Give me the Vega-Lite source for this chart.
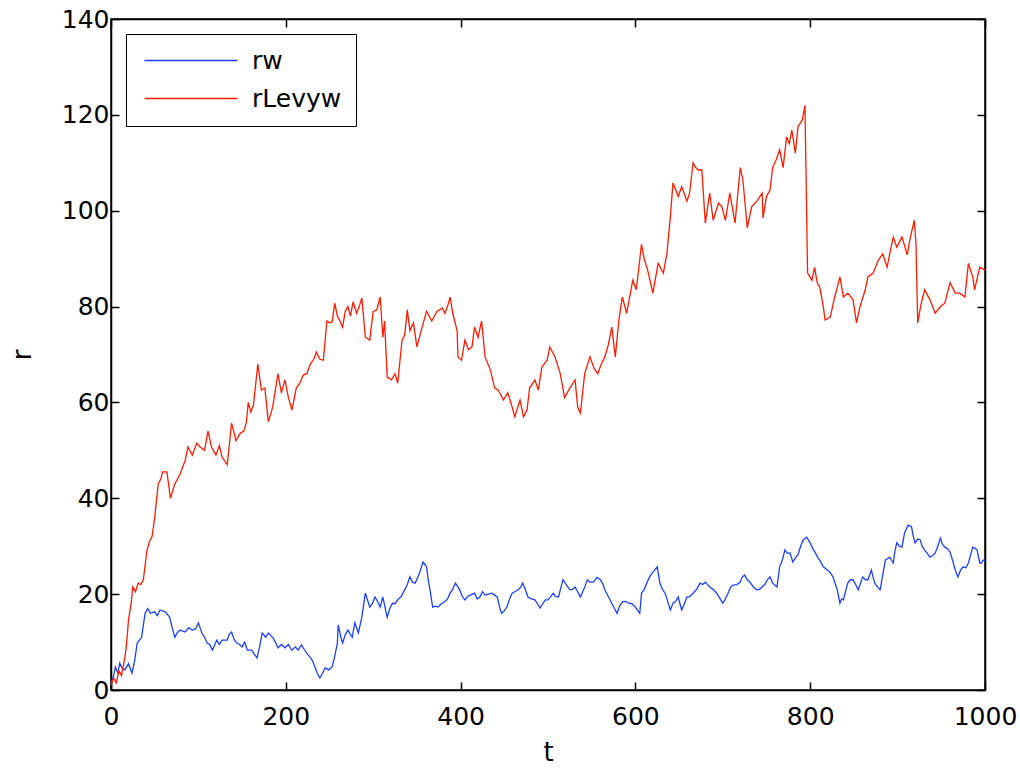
{
  "$schema": "https://vega.github.io/schema/vega-lite/v6.json",
  "width": 874,
  "height": 671,
  "autosize": "none",
  "padding": {"left": 111, "top": 19, "right": 35, "bottom": 78},
  "background": "white",
  "config": {
    "font": "DejaVu Sans",
    "view": {"stroke": "black", "strokeWidth": 1.5}
  },
  "data": {"values": [
    {"s":"rw","t":0,"r":1.5},{"s":"rw","t":3,"r":3},{"s":"rw","t":5,"r":4.8},{"s":"rw","t":8,"r":3.5},{"s":"rw","t":10,"r":5.6},{"s":"rw","t":13,"r":4.5},{"s":"rw","t":16,"r":4.2},{"s":"rw","t":20,"r":5.5},{"s":"rw","t":24,"r":3.5},{"s":"rw","t":27,"r":6},{"s":"rw","t":30,"r":9.8},{"s":"rw","t":35,"r":11},{"s":"rw","t":39,"r":16},{"s":"rw","t":42,"r":17},{"s":"rw","t":45,"r":16},{"s":"rw","t":50,"r":16.3},{"s":"rw","t":53,"r":15.5},{"s":"rw","t":56,"r":16.7},{"s":"rw","t":62,"r":16.3},{"s":"rw","t":67,"r":15.2},{"s":"rw","t":70,"r":13},{"s":"rw","t":73,"r":11},{"s":"rw","t":76,"r":12},{"s":"rw","t":79,"r":12.5},{"s":"rw","t":85,"r":12.1},{"s":"rw","t":89,"r":13},{"s":"rw","t":93,"r":12.5},{"s":"rw","t":97,"r":12.8},{"s":"rw","t":100,"r":14},{"s":"rw","t":104,"r":11.9},{"s":"rw","t":107,"r":11},{"s":"rw","t":110,"r":9.8},{"s":"rw","t":113,"r":9.5},{"s":"rw","t":116,"r":8.3},{"s":"rw","t":121,"r":10.4},{"s":"rw","t":124,"r":9.5},{"s":"rw","t":127,"r":10.4},{"s":"rw","t":133,"r":10.4},{"s":"rw","t":135,"r":11.5},{"s":"rw","t":138,"r":12.1},{"s":"rw","t":141,"r":10.5},{"s":"rw","t":144,"r":9.8},{"s":"rw","t":147,"r":9.5},{"s":"rw","t":150,"r":9},{"s":"rw","t":153,"r":10},{"s":"rw","t":156,"r":8.3},{"s":"rw","t":161,"r":8.3},{"s":"rw","t":164,"r":7.5},{"s":"rw","t":167,"r":6.7},{"s":"rw","t":170,"r":9},{"s":"rw","t":173,"r":11.9},{"s":"rw","t":177,"r":11},{"s":"rw","t":180,"r":11.9},{"s":"rw","t":185,"r":11},{"s":"rw","t":188,"r":10},{"s":"rw","t":191,"r":8.8},{"s":"rw","t":195,"r":9.5},{"s":"rw","t":199,"r":8.8},{"s":"rw","t":203,"r":9.5},{"s":"rw","t":207,"r":8.3},{"s":"rw","t":211,"r":9},{"s":"rw","t":214,"r":8.3},{"s":"rw","t":218,"r":9.4},{"s":"rw","t":221,"r":8.5},{"s":"rw","t":224,"r":7.7},{"s":"rw","t":227,"r":7},{"s":"rw","t":230,"r":6.3},{"s":"rw","t":233,"r":5},{"s":"rw","t":236,"r":3.5},{"s":"rw","t":239,"r":2.5},{"s":"rw","t":242,"r":3.5},{"s":"rw","t":245,"r":4.6},{"s":"rw","t":249,"r":4.2},{"s":"rw","t":253,"r":4.8},{"s":"rw","t":256,"r":7},{"s":"rw","t":259,"r":9.8},{"s":"rw","t":260,"r":13.6},{"s":"rw","t":263,"r":11},{"s":"rw","t":265,"r":9.8},{"s":"rw","t":268,"r":11.5},{"s":"rw","t":271,"r":12.5},{"s":"rw","t":276,"r":11},{"s":"rw","t":279,"r":14},{"s":"rw","t":283,"r":11.9},{"s":"rw","t":287,"r":15.2},{"s":"rw","t":291,"r":20.2},{"s":"rw","t":294,"r":18.5},{"s":"rw","t":296,"r":17.3},{"s":"rw","t":299,"r":18},{"s":"rw","t":302,"r":19.4},{"s":"rw","t":305,"r":18.5},{"s":"rw","t":308,"r":17.3},{"s":"rw","t":311,"r":19.4},{"s":"rw","t":316,"r":15.2},{"s":"rw","t":319,"r":17},{"s":"rw","t":322,"r":18.1},{"s":"rw","t":325,"r":18},{"s":"rw","t":328,"r":18.8},{"s":"rw","t":332,"r":19.5},{"s":"rw","t":336,"r":20.9},{"s":"rw","t":339,"r":22},{"s":"rw","t":342,"r":23.6},{"s":"rw","t":345,"r":22.5},{"s":"rw","t":348,"r":22.3},{"s":"rw","t":351,"r":23.5},{"s":"rw","t":354,"r":25},{"s":"rw","t":357,"r":26.7},{"s":"rw","t":361,"r":25.7},{"s":"rw","t":363,"r":23},{"s":"rw","t":365,"r":20.9},{"s":"rw","t":368,"r":17.3},{"s":"rw","t":371,"r":17.5},{"s":"rw","t":374,"r":17.3},{"s":"rw","t":378,"r":18},{"s":"rw","t":382,"r":18.4},{"s":"rw","t":385,"r":19},{"s":"rw","t":388,"r":20.2},{"s":"rw","t":391,"r":21},{"s":"rw","t":394,"r":22.3},{"s":"rw","t":397,"r":21.5},{"s":"rw","t":399,"r":20.9},{"s":"rw","t":402,"r":19.5},{"s":"rw","t":405,"r":18.8},{"s":"rw","t":408,"r":19.5},{"s":"rw","t":411,"r":19.8},{"s":"rw","t":416,"r":20.2},{"s":"rw","t":419,"r":19},{"s":"rw","t":422,"r":19.4},{"s":"rw","t":425,"r":20.5},{"s":"rw","t":428,"r":19.8},{"s":"rw","t":432,"r":20},{"s":"rw","t":436,"r":20.2},{"s":"rw","t":439,"r":19.8},{"s":"rw","t":442,"r":19.4},{"s":"rw","t":445,"r":17},{"s":"rw","t":447,"r":16},{"s":"rw","t":450,"r":16.5},{"s":"rw","t":453,"r":17.3},{"s":"rw","t":456,"r":19},{"s":"rw","t":459,"r":20.2},{"s":"rw","t":462,"r":20.5},{"s":"rw","t":466,"r":20.9},{"s":"rw","t":469,"r":21.5},{"s":"rw","t":471,"r":22.3},{"s":"rw","t":474,"r":21},{"s":"rw","t":477,"r":19.4},{"s":"rw","t":481,"r":19},{"s":"rw","t":485,"r":18.8},{"s":"rw","t":488,"r":18},{"s":"rw","t":491,"r":17.1},{"s":"rw","t":494,"r":18},{"s":"rw","t":497,"r":18.8},{"s":"rw","t":500,"r":18.8},{"s":"rw","t":503,"r":19.5},{"s":"rw","t":506,"r":20.2},{"s":"rw","t":509,"r":19.5},{"s":"rw","t":512,"r":19.4},{"s":"rw","t":515,"r":21.5},{"s":"rw","t":517,"r":23},{"s":"rw","t":521,"r":22},{"s":"rw","t":525,"r":20.9},{"s":"rw","t":528,"r":21},{"s":"rw","t":531,"r":21.5},{"s":"rw","t":534,"r":20.5},{"s":"rw","t":537,"r":19.4},{"s":"rw","t":541,"r":21},{"s":"rw","t":545,"r":23},{"s":"rw","t":548,"r":22.5},{"s":"rw","t":552,"r":22.5},{"s":"rw","t":556,"r":23.5},{"s":"rw","t":560,"r":23},{"s":"rw","t":563,"r":22},{"s":"rw","t":565,"r":20.9},{"s":"rw","t":569,"r":19.5},{"s":"rw","t":573,"r":18.1},{"s":"rw","t":576,"r":17},{"s":"rw","t":579,"r":16},{"s":"rw","t":582,"r":17.5},{"s":"rw","t":585,"r":18.4},{"s":"rw","t":589,"r":18.5},{"s":"rw","t":592,"r":18.1},{"s":"rw","t":596,"r":18},{"s":"rw","t":600,"r":17.3},{"s":"rw","t":603,"r":16.5},{"s":"rw","t":605,"r":16},{"s":"rw","t":607,"r":20.2},{"s":"rw","t":610,"r":21},{"s":"rw","t":613,"r":22.3},{"s":"rw","t":616,"r":23.5},{"s":"rw","t":619,"r":24.4},{"s":"rw","t":622,"r":25},{"s":"rw","t":625,"r":25.7},{"s":"rw","t":628,"r":22.3},{"s":"rw","t":631,"r":21},{"s":"rw","t":634,"r":20.2},{"s":"rw","t":637,"r":18.5},{"s":"rw","t":640,"r":16.7},{"s":"rw","t":643,"r":18.1},{"s":"rw","t":646,"r":18.5},{"s":"rw","t":649,"r":19.4},{"s":"rw","t":651,"r":18},{"s":"rw","t":653,"r":16.7},{"s":"rw","t":656,"r":18},{"s":"rw","t":659,"r":19.4},{"s":"rw","t":662,"r":19.5},{"s":"rw","t":666,"r":20.2},{"s":"rw","t":670,"r":21},{"s":"rw","t":674,"r":22.3},{"s":"rw","t":677,"r":22},{"s":"rw","t":680,"r":22.5},{"s":"rw","t":685,"r":21.5},{"s":"rw","t":689,"r":21},{"s":"rw","t":693,"r":20.2},{"s":"rw","t":697,"r":19},{"s":"rw","t":700,"r":18.1},{"s":"rw","t":703,"r":19},{"s":"rw","t":706,"r":20.2},{"s":"rw","t":709,"r":21.5},{"s":"rw","t":712,"r":21.9},{"s":"rw","t":716,"r":22},{"s":"rw","t":720,"r":22.5},{"s":"rw","t":722,"r":23.5},{"s":"rw","t":725,"r":24},{"s":"rw","t":728,"r":23},{"s":"rw","t":731,"r":22.5},{"s":"rw","t":735,"r":21.5},{"s":"rw","t":739,"r":20.9},{"s":"rw","t":742,"r":21},{"s":"rw","t":745,"r":21.5},{"s":"rw","t":748,"r":22},{"s":"rw","t":751,"r":23},{"s":"rw","t":754,"r":23.6},{"s":"rw","t":757,"r":22.3},{"s":"rw","t":762,"r":21.5},{"s":"rw","t":765,"r":25.7},{"s":"rw","t":768,"r":27},{"s":"rw","t":771,"r":29.2},{"s":"rw","t":774,"r":28.5},{"s":"rw","t":777,"r":28.6},{"s":"rw","t":780,"r":26.7},{"s":"rw","t":783,"r":27.5},{"s":"rw","t":786,"r":28.2},{"s":"rw","t":789,"r":30},{"s":"rw","t":792,"r":31.3},{"s":"rw","t":796,"r":31.9},{"s":"rw","t":800,"r":30.7},{"s":"rw","t":803,"r":29.5},{"s":"rw","t":806,"r":28.6},{"s":"rw","t":809,"r":27.5},{"s":"rw","t":811,"r":27.1},{"s":"rw","t":815,"r":25.7},{"s":"rw","t":820,"r":25},{"s":"rw","t":823,"r":24.5},{"s":"rw","t":826,"r":23.6},{"s":"rw","t":829,"r":22},{"s":"rw","t":831,"r":20.9},{"s":"rw","t":834,"r":18.1},{"s":"rw","t":836,"r":19},{"s":"rw","t":838,"r":18.8},{"s":"rw","t":841,"r":21},{"s":"rw","t":843,"r":22.3},{"s":"rw","t":846,"r":23},{"s":"rw","t":849,"r":23},{"s":"rw","t":852,"r":22},{"s":"rw","t":855,"r":20.9},{"s":"rw","t":858,"r":22.5},{"s":"rw","t":860,"r":23.6},{"s":"rw","t":863,"r":23},{"s":"rw","t":866,"r":23},{"s":"rw","t":870,"r":25},{"s":"rw","t":872,"r":23.5},{"s":"rw","t":874,"r":22.3},{"s":"rw","t":877,"r":21.5},{"s":"rw","t":880,"r":20.9},{"s":"rw","t":883,"r":24},{"s":"rw","t":886,"r":27.1},{"s":"rw","t":891,"r":27.7},{"s":"rw","t":895,"r":26.5},{"s":"rw","t":897,"r":29},{"s":"rw","t":899,"r":30.7},{"s":"rw","t":902,"r":30},{"s":"rw","t":905,"r":29.8},{"s":"rw","t":908,"r":32.8},{"s":"rw","t":912,"r":34.4},{"s":"rw","t":916,"r":34},{"s":"rw","t":918,"r":32},{"s":"rw","t":920,"r":30.7},{"s":"rw","t":923,"r":31.5},{"s":"rw","t":926,"r":31.3},{"s":"rw","t":928,"r":30},{"s":"rw","t":931,"r":29.2},{"s":"rw","t":934,"r":28.5},{"s":"rw","t":937,"r":27.7},{"s":"rw","t":940,"r":28},{"s":"rw","t":943,"r":28.6},{"s":"rw","t":946,"r":30},{"s":"rw","t":949,"r":31.7},{"s":"rw","t":951,"r":30.5},{"s":"rw","t":954,"r":29.8},{"s":"rw","t":957,"r":29.5},{"s":"rw","t":960,"r":28.8},{"s":"rw","t":963,"r":27},{"s":"rw","t":966,"r":25},{"s":"rw","t":969,"r":23.6},{"s":"rw","t":972,"r":25},{"s":"rw","t":975,"r":25.7},{"s":"rw","t":978,"r":25.5},{"s":"rw","t":981,"r":26.5},{"s":"rw","t":984,"r":28.5},{"s":"rw","t":986,"r":29.8},{"s":"rw","t":989,"r":29.5},{"s":"rw","t":991,"r":29.2},{"s":"rw","t":994,"r":26.5},{"s":"rw","t":996,"r":26.5},{"s":"rw","t":998,"r":27.1},{"s":"rw","t":1000,"r":27},
    {"s":"rLevyw","t":0,"r":1},{"s":"rLevyw","t":3,"r":2.5},{"s":"rLevyw","t":6,"r":1.5},{"s":"rLevyw","t":9,"r":4},{"s":"rLevyw","t":12,"r":3},{"s":"rLevyw","t":14,"r":5},{"s":"rLevyw","t":16,"r":6.9},{"s":"rLevyw","t":18,"r":10},{"s":"rLevyw","t":20,"r":14.6},{"s":"rLevyw","t":23,"r":18},{"s":"rLevyw","t":25,"r":21.5},{"s":"rLevyw","t":28,"r":20.5},{"s":"rLevyw","t":31,"r":22.3},{"s":"rLevyw","t":34,"r":22},{"s":"rLevyw","t":37,"r":23},{"s":"rLevyw","t":41,"r":29},{"s":"rLevyw","t":44,"r":31},{"s":"rLevyw","t":47,"r":32},{"s":"rLevyw","t":50,"r":36},{"s":"rLevyw","t":54,"r":43},{"s":"rLevyw","t":57,"r":44},{"s":"rLevyw","t":59,"r":45.5},{"s":"rLevyw","t":64,"r":45.5},{"s":"rLevyw","t":68,"r":40},{"s":"rLevyw","t":73,"r":43},{"s":"rLevyw","t":79,"r":45},{"s":"rLevyw","t":85,"r":48},{"s":"rLevyw","t":88,"r":50.7},{"s":"rLevyw","t":93,"r":49},{"s":"rLevyw","t":98,"r":51.5},{"s":"rLevyw","t":102,"r":50.7},{"s":"rLevyw","t":107,"r":50},{"s":"rLevyw","t":111,"r":54},{"s":"rLevyw","t":115,"r":50.7},{"s":"rLevyw","t":120,"r":49},{"s":"rLevyw","t":124,"r":51},{"s":"rLevyw","t":127,"r":48.6},{"s":"rLevyw","t":133,"r":47},{"s":"rLevyw","t":138,"r":55.7},{"s":"rLevyw","t":143,"r":52},{"s":"rLevyw","t":148,"r":53.6},{"s":"rLevyw","t":152,"r":54},{"s":"rLevyw","t":155,"r":56},{"s":"rLevyw","t":157,"r":60},{"s":"rLevyw","t":160,"r":58},{"s":"rLevyw","t":163,"r":59.5},{"s":"rLevyw","t":168,"r":68},{"s":"rLevyw","t":172,"r":62.6},{"s":"rLevyw","t":176,"r":63},{"s":"rLevyw","t":180,"r":56},{"s":"rLevyw","t":185,"r":59},{"s":"rLevyw","t":191,"r":66},{"s":"rLevyw","t":195,"r":62},{"s":"rLevyw","t":199,"r":64.7},{"s":"rLevyw","t":203,"r":61},{"s":"rLevyw","t":207,"r":58.4},{"s":"rLevyw","t":212,"r":63},{"s":"rLevyw","t":216,"r":64},{"s":"rLevyw","t":220,"r":65.7},{"s":"rLevyw","t":224,"r":66},{"s":"rLevyw","t":228,"r":68},{"s":"rLevyw","t":232,"r":69},{"s":"rLevyw","t":235,"r":70.5},{"s":"rLevyw","t":239,"r":69},{"s":"rLevyw","t":243,"r":68.8},{"s":"rLevyw","t":247,"r":77},{"s":"rLevyw","t":250,"r":76.6},{"s":"rLevyw","t":253,"r":76.8},{"s":"rLevyw","t":256,"r":80.7},{"s":"rLevyw","t":259,"r":78},{"s":"rLevyw","t":262,"r":77},{"s":"rLevyw","t":265,"r":75.7},{"s":"rLevyw","t":268,"r":79},{"s":"rLevyw","t":271,"r":80},{"s":"rLevyw","t":274,"r":78},{"s":"rLevyw","t":277,"r":81},{"s":"rLevyw","t":281,"r":78.6},{"s":"rLevyw","t":284,"r":80},{"s":"rLevyw","t":287,"r":81.8},{"s":"rLevyw","t":291,"r":73.6},{"s":"rLevyw","t":296,"r":73},{"s":"rLevyw","t":300,"r":79},{"s":"rLevyw","t":304,"r":79.3},{"s":"rLevyw","t":308,"r":82},{"s":"rLevyw","t":311,"r":73.6},{"s":"rLevyw","t":313,"r":77},{"s":"rLevyw","t":316,"r":65.3},{"s":"rLevyw","t":321,"r":64.7},{"s":"rLevyw","t":325,"r":66},{"s":"rLevyw","t":328,"r":64},{"s":"rLevyw","t":333,"r":73},{"s":"rLevyw","t":336,"r":74},{"s":"rLevyw","t":339,"r":79.3},{"s":"rLevyw","t":342,"r":75},{"s":"rLevyw","t":346,"r":76.6},{"s":"rLevyw","t":350,"r":71.6},{"s":"rLevyw","t":356,"r":75.7},{"s":"rLevyw","t":361,"r":79},{"s":"rLevyw","t":367,"r":77},{"s":"rLevyw","t":373,"r":79},{"s":"rLevyw","t":379,"r":79.7},{"s":"rLevyw","t":382,"r":78.6},{"s":"rLevyw","t":385,"r":80},{"s":"rLevyw","t":388,"r":82},{"s":"rLevyw","t":391,"r":78.6},{"s":"rLevyw","t":396,"r":75},{"s":"rLevyw","t":397,"r":69.5},{"s":"rLevyw","t":401,"r":68.8},{"s":"rLevyw","t":405,"r":73},{"s":"rLevyw","t":409,"r":71},{"s":"rLevyw","t":413,"r":71.6},{"s":"rLevyw","t":416,"r":75.7},{"s":"rLevyw","t":420,"r":73.6},{"s":"rLevyw","t":424,"r":77},{"s":"rLevyw","t":428,"r":69.5},{"s":"rLevyw","t":434,"r":66.8},{"s":"rLevyw","t":439,"r":63},{"s":"rLevyw","t":443,"r":62.6},{"s":"rLevyw","t":449,"r":60.5},{"s":"rLevyw","t":454,"r":62},{"s":"rLevyw","t":459,"r":59},{"s":"rLevyw","t":462,"r":57},{"s":"rLevyw","t":468,"r":60.5},{"s":"rLevyw","t":472,"r":57},{"s":"rLevyw","t":476,"r":58.4},{"s":"rLevyw","t":479,"r":63},{"s":"rLevyw","t":485,"r":64.7},{"s":"rLevyw","t":489,"r":62.6},{"s":"rLevyw","t":493,"r":67.4},{"s":"rLevyw","t":499,"r":68.8},{"s":"rLevyw","t":502,"r":71.6},{"s":"rLevyw","t":508,"r":69.5},{"s":"rLevyw","t":514,"r":66},{"s":"rLevyw","t":519,"r":61},{"s":"rLevyw","t":525,"r":63},{"s":"rLevyw","t":531,"r":64.7},{"s":"rLevyw","t":534,"r":59},{"s":"rLevyw","t":537,"r":57.8},{"s":"rLevyw","t":542,"r":66},{"s":"rLevyw","t":548,"r":69.5},{"s":"rLevyw","t":553,"r":67},{"s":"rLevyw","t":557,"r":66},{"s":"rLevyw","t":561,"r":68},{"s":"rLevyw","t":565,"r":69.5},{"s":"rLevyw","t":569,"r":72},{"s":"rLevyw","t":573,"r":75.7},{"s":"rLevyw","t":577,"r":69.5},{"s":"rLevyw","t":581,"r":77},{"s":"rLevyw","t":585,"r":82},{"s":"rLevyw","t":590,"r":78.6},{"s":"rLevyw","t":597,"r":85.5},{"s":"rLevyw","t":601,"r":83.5},{"s":"rLevyw","t":607,"r":93},{"s":"rLevyw","t":610,"r":90},{"s":"rLevyw","t":614,"r":87.6},{"s":"rLevyw","t":620,"r":82.8},{"s":"rLevyw","t":626,"r":89},{"s":"rLevyw","t":632,"r":87},{"s":"rLevyw","t":636,"r":91},{"s":"rLevyw","t":640,"r":98.7},{"s":"rLevyw","t":643,"r":105.8},{"s":"rLevyw","t":649,"r":103},{"s":"rLevyw","t":653,"r":105},{"s":"rLevyw","t":659,"r":102},{"s":"rLevyw","t":662,"r":103.7},{"s":"rLevyw","t":666,"r":110},{"s":"rLevyw","t":669,"r":109},{"s":"rLevyw","t":672,"r":108.5},{"s":"rLevyw","t":676,"r":108.5},{"s":"rLevyw","t":680,"r":97.4},{"s":"rLevyw","t":685,"r":103.7},{"s":"rLevyw","t":689,"r":98},{"s":"rLevyw","t":695,"r":101.6},{"s":"rLevyw","t":699,"r":100.8},{"s":"rLevyw","t":703,"r":98},{"s":"rLevyw","t":708,"r":103.7},{"s":"rLevyw","t":714,"r":97.4},{"s":"rLevyw","t":720,"r":109},{"s":"rLevyw","t":723,"r":106.4},{"s":"rLevyw","t":728,"r":96.4},{"s":"rLevyw","t":733,"r":100.8},{"s":"rLevyw","t":739,"r":102},{"s":"rLevyw","t":745,"r":103.7},{"s":"rLevyw","t":746,"r":98.5},{"s":"rLevyw","t":750,"r":103},{"s":"rLevyw","t":754,"r":104.3},{"s":"rLevyw","t":757,"r":109},{"s":"rLevyw","t":761,"r":110.6},{"s":"rLevyw","t":765,"r":112.7},{"s":"rLevyw","t":769,"r":109},{"s":"rLevyw","t":773,"r":115.4},{"s":"rLevyw","t":776,"r":114},{"s":"rLevyw","t":779,"r":116.8},{"s":"rLevyw","t":783,"r":112},{"s":"rLevyw","t":786,"r":117.5},{"s":"rLevyw","t":791,"r":119},{"s":"rLevyw","t":794,"r":122},{"s":"rLevyw","t":797,"r":87},{"s":"rLevyw","t":802,"r":85.5},{"s":"rLevyw","t":805,"r":88.2},{"s":"rLevyw","t":808,"r":85},{"s":"rLevyw","t":811,"r":84},{"s":"rLevyw","t":815,"r":80},{"s":"rLevyw","t":817,"r":77.2},{"s":"rLevyw","t":823,"r":77.8},{"s":"rLevyw","t":828,"r":82},{"s":"rLevyw","t":831,"r":84},{"s":"rLevyw","t":834,"r":86.2},{"s":"rLevyw","t":838,"r":82},{"s":"rLevyw","t":843,"r":82.8},{"s":"rLevyw","t":849,"r":81.4},{"s":"rLevyw","t":853,"r":76.6},{"s":"rLevyw","t":857,"r":80},{"s":"rLevyw","t":863,"r":83.5},{"s":"rLevyw","t":866,"r":86.2},{"s":"rLevyw","t":872,"r":87},{"s":"rLevyw","t":878,"r":89.7},{"s":"rLevyw","t":883,"r":91},{"s":"rLevyw","t":888,"r":88.2},{"s":"rLevyw","t":891,"r":91},{"s":"rLevyw","t":895,"r":94.5},{"s":"rLevyw","t":899,"r":92.4},{"s":"rLevyw","t":905,"r":94.5},{"s":"rLevyw","t":911,"r":90.8},{"s":"rLevyw","t":914,"r":93.9},{"s":"rLevyw","t":919,"r":98},{"s":"rLevyw","t":921,"r":93.3},{"s":"rLevyw","t":923,"r":76.6},{"s":"rLevyw","t":927,"r":80.7},{"s":"rLevyw","t":931,"r":83.5},{"s":"rLevyw","t":937,"r":81.4},{"s":"rLevyw","t":943,"r":78.6},{"s":"rLevyw","t":949,"r":80},{"s":"rLevyw","t":954,"r":80.7},{"s":"rLevyw","t":960,"r":85},{"s":"rLevyw","t":966,"r":82.8},{"s":"rLevyw","t":971,"r":82.8},{"s":"rLevyw","t":977,"r":82},{"s":"rLevyw","t":981,"r":89},{"s":"rLevyw","t":986,"r":86.2},{"s":"rLevyw","t":988,"r":83.5},{"s":"rLevyw","t":994,"r":88.2},{"s":"rLevyw","t":1000,"r":87.6}
  ]},
  "layer": [
    {
      "mark": {"type": "line", "strokeWidth": 1.3},
      "encoding": {
        "x": {"field": "t", "type": "quantitative",
          "scale": {"domain": [0, 1000], "nice": false},
          "axis": {"orient": "bottom", "values": [0, 200, 400, 600, 800, 1000], "format": "d", "grid": false,
            "tickSize": -8, "tickColor": "black", "tickWidth": 1.5, "domainColor": "black", "domainWidth": 1.5,
            "labelFontSize": 25, "labelColor": "black", "labelPadding": 22, "labelFlush": false, "labelOverlap": false,
            "title": "t", "titleFontSize": 26, "titleFontWeight": "normal", "titleColor": "black", "titlePadding": 10}},
        "y": {"field": "r", "type": "quantitative",
          "scale": {"domain": [0, 140], "nice": false},
          "axis": {"orient": "left", "values": [0, 20, 40, 60, 80, 100, 120, 140], "format": "d", "grid": false,
            "tickSize": -8, "tickColor": "black", "tickWidth": 1.5, "domainColor": "black", "domainWidth": 1.5,
            "labelFontSize": 25, "labelColor": "black", "labelPadding": 10, "labelFlush": false, "labelOverlap": false,
            "title": "r", "titleFontSize": 26, "titleFontWeight": "normal", "titleColor": "black", "titlePadding": 26}},
        "color": {"field": "s", "type": "nominal",
          "scale": {"domain": ["rw", "rLevyw"], "range": ["#1a40ff", "#ff1a00"]},
          "legend": {"orient": "none", "legendX": 15, "legendY": 15, "title": null,
            "symbolType": "M-1.6,0H17", "symbolSize": 100, "symbolStrokeWidth": 1.5,
            "labelFontSize": 25, "labelColor": "black", "labelOffset": 87,
            "strokeColor": "black", "fillColor": "white", "padding": 14, "rowPadding": 12}}
      }
    },
    {
      "mark": {"type": "line", "opacity": 0},
      "encoding": {
        "x": {"field": "t", "type": "quantitative",
          "axis": {"orient": "top", "values": [0, 200, 400, 600, 800, 1000], "grid": false, "labels": false, "title": null,
            "tickSize": -8, "tickColor": "black", "tickWidth": 1.5, "domainColor": "black", "domainWidth": 1.5}},
        "y": {"field": "r", "type": "quantitative",
          "axis": {"orient": "right", "values": [0, 20, 40, 60, 80, 100, 120, 140], "grid": false, "labels": false, "title": null,
            "tickSize": -8, "tickColor": "black", "tickWidth": 1.5, "domainColor": "black", "domainWidth": 1.5}},
        "detail": {"field": "s", "type": "nominal"}
      }
    }
  ],
  "resolve": {"axis": {"x": "independent", "y": "independent"}}
}
